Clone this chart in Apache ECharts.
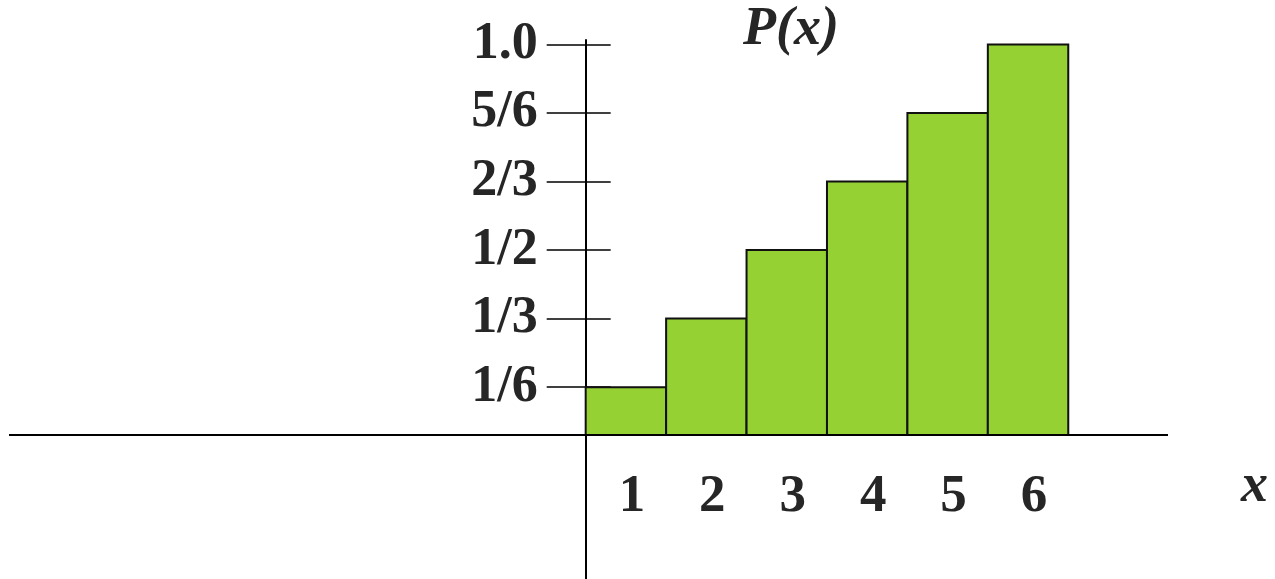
<!DOCTYPE html>
<html>
<head>
<meta charset="utf-8">
<script src="https://cdn.jsdelivr.net/npm/echarts@6/dist/echarts.min.js"></script>
<style>
  html, body { margin: 0; padding: 0; background: #fff; }
  #chart { width: 1275px; height: 579px; }
</style>
</head>
<body>
<div id="chart"></div>
<script>
// Cumulative distribution of a fair die: P(X <= x)
const outcomes = ['1', '2', '3', '4', '5', '6'];
const cdfValues = [1 / 6, 2 / 6, 3 / 6, 4 / 6, 5 / 6, 1];

// Vertical axis ticks and their fraction labels
const yTickValues = [1 / 6, 2 / 6, 3 / 6, 4 / 6, 5 / 6, 1];
const yTickLabels = ['1/6', '1/3', '1/2', '2/3', '5/6', '1.0'];

// Level of the horizontal axis line the steps stand on
const BASE = 0.05;

// Axis ranges
const X_MIN = -7.17, X_MAX = 7.24;
const Y_MIN = -0.3, Y_MAX = 1.011;

const GRID = { left: 9, right: 107, top: 40, bottom: 0 };
const SERIF = "'Liberation Serif', 'Times New Roman', serif";
const INK = '#262626';
const GREEN = '#95d133';

const chart = echarts.init(document.getElementById('chart'));

const barData = cdfValues.map((v, k) => [k, v]);
const italicTitle = { fontFamily: SERIF, fontSize: 54, lineHeight: 54, fontWeight: 'bold', fontStyle: 'italic', color: INK };

chart.setOption({
  animation: false,
  backgroundColor: '#fff',
  title: [
    { text: 'P(x)', left: 743, top: 3, padding: 0, textStyle: italicTitle },
    { text: 'x', left: 1241, top: 460, padding: 0, textStyle: italicTitle }
  ],
  grid: Object.assign({ containLabel: false, outerBoundsMode: 'none' }, GRID),
  xAxis: {
    type: 'value', position: 'bottom',
    min: X_MIN, max: X_MAX,
    axisLine: { show: false, onZero: false },
    axisTick: { show: false },
    splitLine: { show: false },
    axisLabel: {
      customValues: outcomes.map((_, k) => k + 0.5),
      formatter: v => outcomes[Math.round(v - 0.5)] || '',
      fontFamily: SERIF, fontSize: 53, fontWeight: 'bold', color: INK,
      margin: 15, padding: [0, 0, 0, 12]
    }
  },
  yAxis: [
    {
      type: 'value', position: 'left',
      min: Y_MIN, max: Y_MAX,
      axisLine: { show: true, onZero: false, lineStyle: { color: '#000', width: 2 } },
      axisTick: { show: true, inside: false, length: 39, customValues: yTickValues, lineStyle: { color: '#000', width: 1.5 } },
      splitLine: { show: false },
      axisLabel: {
        customValues: yTickValues,
        formatter: v => {
          const i = yTickValues.findIndex(t => Math.abs(t - v) < 1e-6);
          return i >= 0 ? yTickLabels[i] : '';
        },
        fontFamily: SERIF, fontSize: 52, fontWeight: 'bold', color: INK,
        margin: 48, padding: [8, 0, 0, 0]
      }
    },
    {
      type: 'value', position: 'left',
      min: Y_MIN, max: Y_MAX,
      axisLine: { show: false, onZero: false },
      axisTick: { show: true, inside: true, length: 25, customValues: yTickValues, lineStyle: { color: '#000', width: 1.5 } },
      splitLine: { show: false },
      axisLabel: { show: false }
    }
  ],
  series: [
    {
      type: 'custom',
      xAxisIndex: 0, yAxisIndex: 0,
      data: barData,
      renderItem: (params, api) => {
        const k = api.value(0);
        const v = api.value(1);
        const topLeft = api.coord([k, v]);
        const bottomRight = api.coord([k + 1, BASE]);
        return {
          type: 'rect',
          shape: {
            x: topLeft[0], y: topLeft[1],
            width: bottomRight[0] - topLeft[0],
            height: bottomRight[1] - topLeft[1]
          },
          style: { fill: GREEN, stroke: '#111', lineWidth: 2 }
        };
      },
      markLine: {
        silent: true,
        symbol: 'none',
        label: { show: false },
        lineStyle: { color: '#000', width: 2, type: 'solid' },
        data: [{ yAxis: BASE }]
      }
    }
  ]
});

// Move both axes onto the origin (x = 0, y = 0) of the value scales,
// carrying their ticks and labels along with the axis lines.
const origin = chart.convertToPixel({ gridIndex: 0 }, [0, 0]);
const gridBottomY = chart.getHeight() - GRID.bottom;
const yOffset = -(origin[0] - GRID.left);
const xOffset = -(gridBottomY - origin[1]);
chart.setOption({
  xAxis: { offset: xOffset },
  yAxis: [{ offset: yOffset }, { offset: yOffset }]
});
</script>
</body>
</html>
